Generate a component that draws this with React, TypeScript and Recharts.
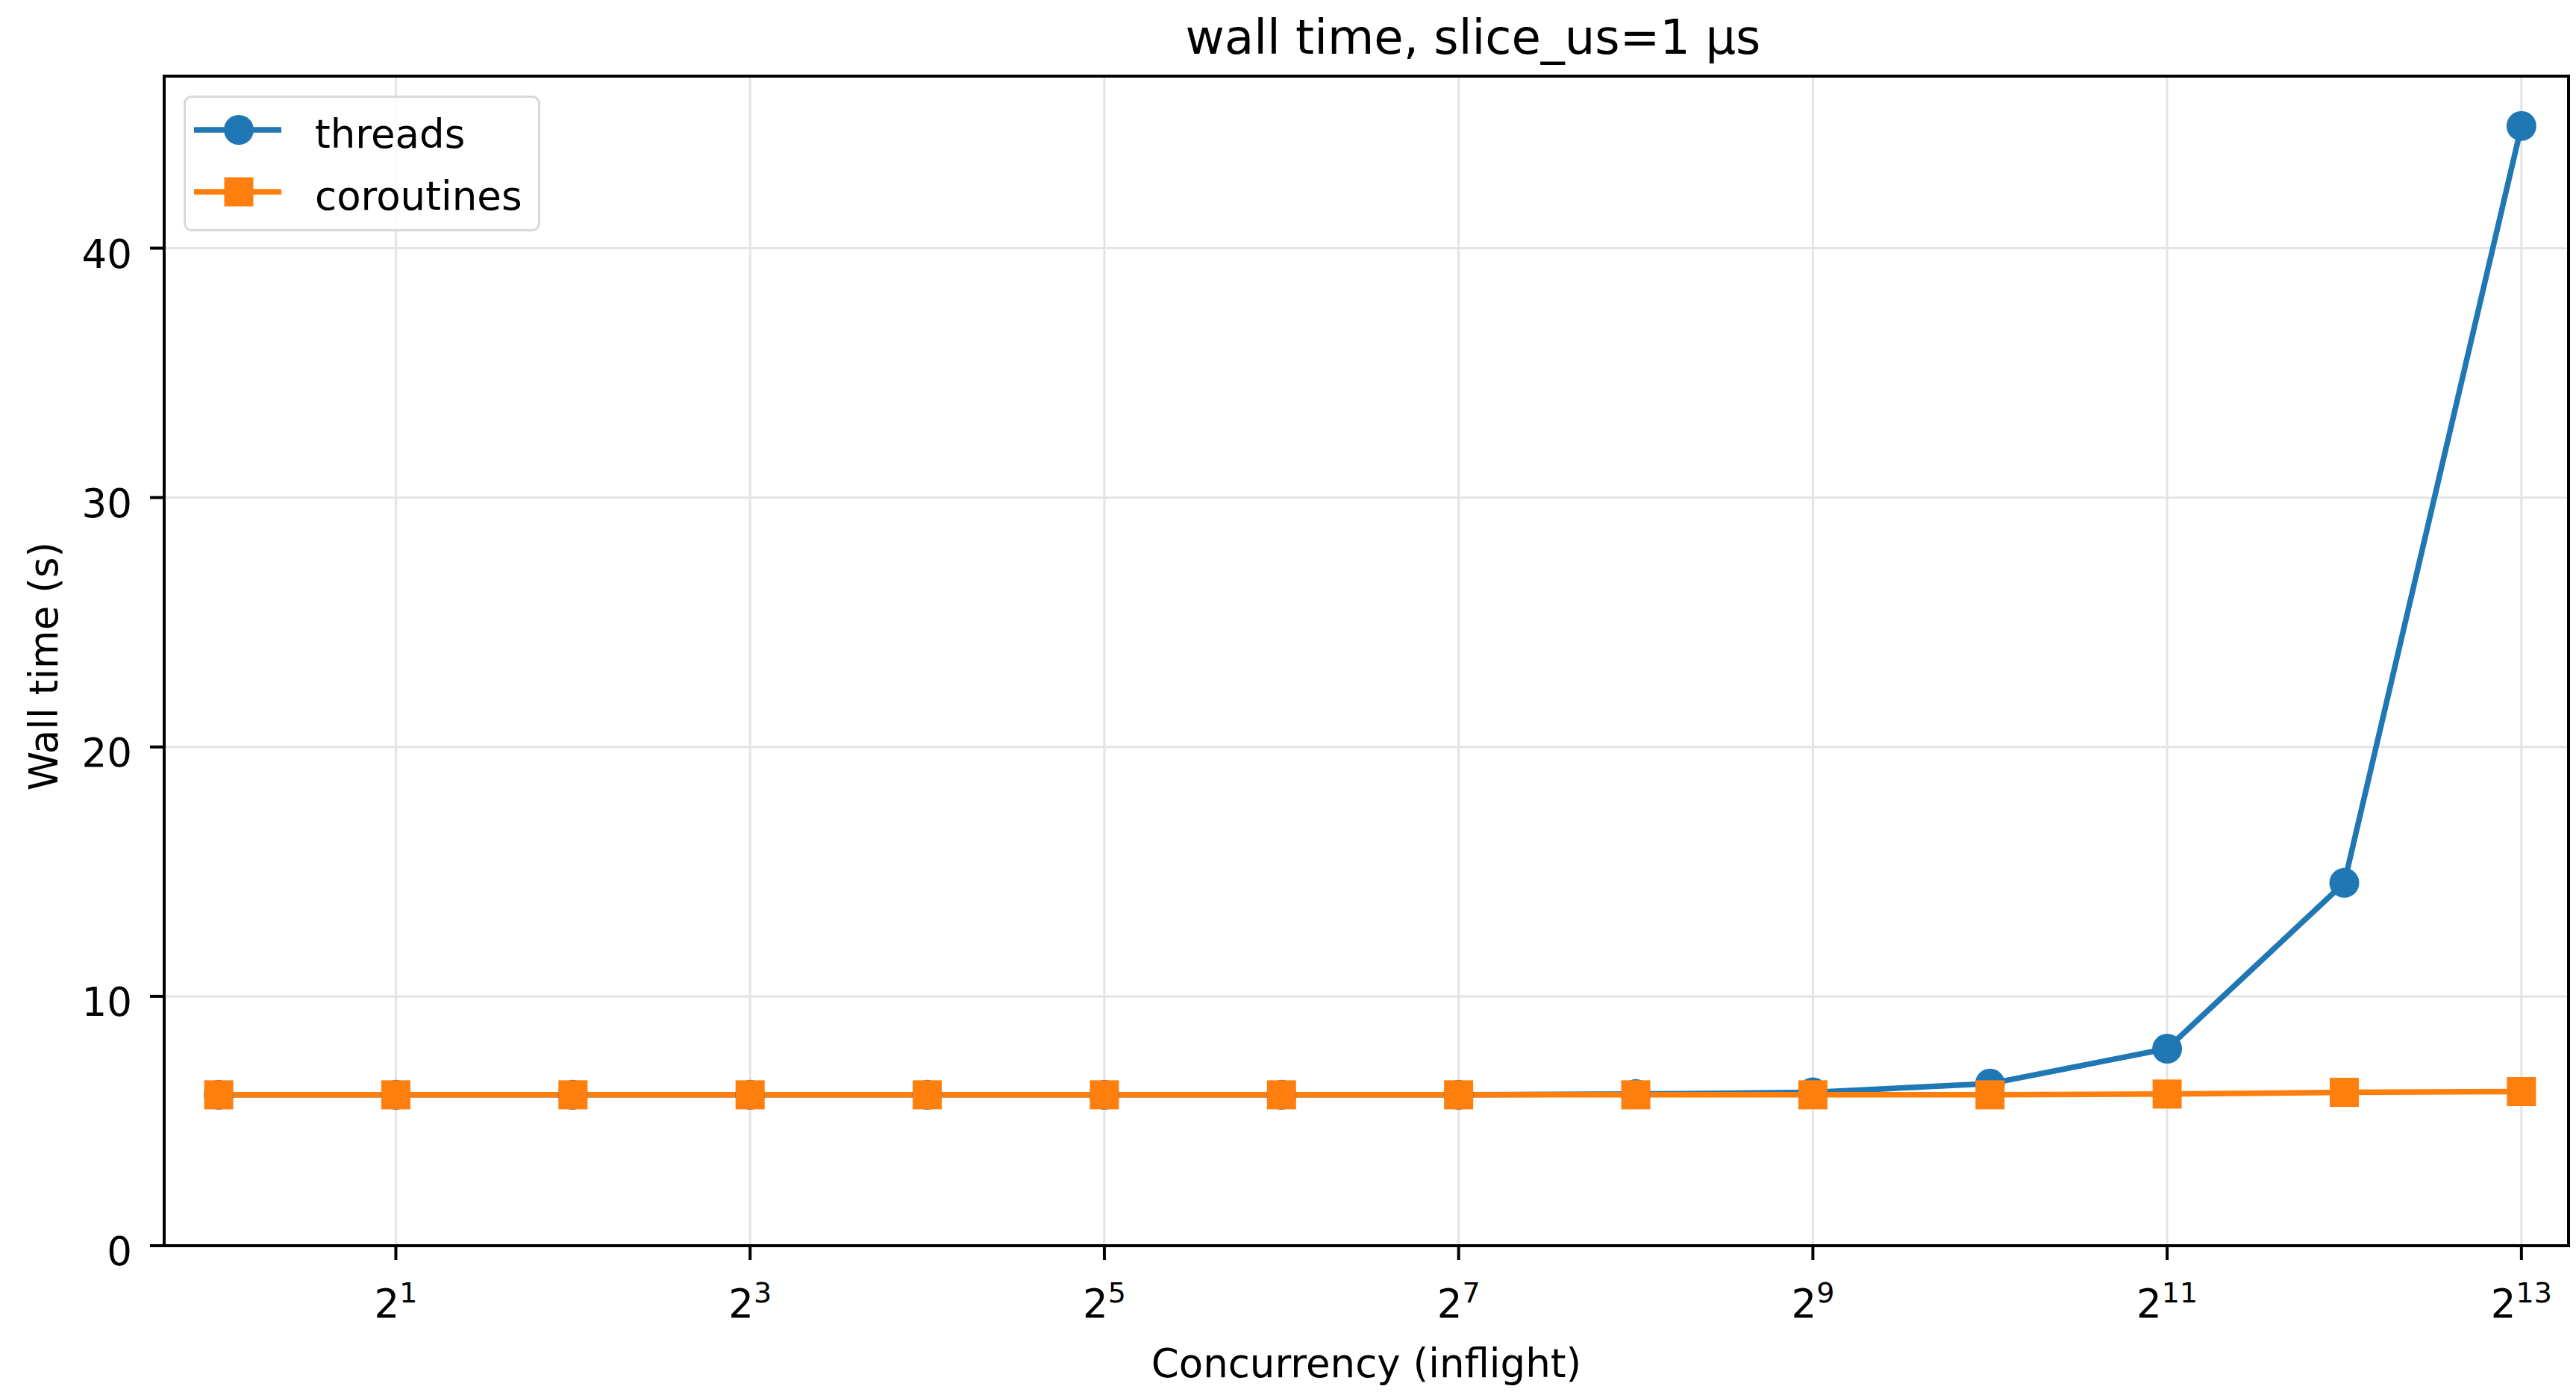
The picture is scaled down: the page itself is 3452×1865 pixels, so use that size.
import { LineChart, Line, XAxis, YAxis, CartesianGrid, Legend, ReferenceArea } from 'recharts';

// concurrency levels (inflight), 2^0 .. 2^13
const concurrency = [1, 2, 4, 8, 16, 32, 64, 128, 256, 512, 1024, 2048, 4096, 8192];
// wall time in seconds
const threadsWall = [6.05, 6.05, 6.05, 6.05, 6.05, 6.05, 6.05, 6.05, 6.08, 6.15, 6.5, 7.9, 14.55, 44.9];
const coroutinesWall = [6.05, 6.05, 6.05, 6.05, 6.05, 6.05, 6.05, 6.05, 6.05, 6.05, 6.05, 6.08, 6.15, 6.18];

const seriesOrder = ['threads', 'coroutines'];
const xTicks = [2, 8, 32, 128, 512, 2048, 8192];
const yTicks = [0, 10, 20, 30, 40];
const xDomain = [0.8078, 9851];
const yDomain = [0, 46.9];

const BLUE = '#1f77b4';
const ORANGE = '#ff7f0e';
const FONT = '"DejaVu Sans", sans-serif';

const data = concurrency.map((c, i) => ({
    inflight: c,
    threads: threadsWall[i],
    coroutines: coroutinesWall[i],
}));

function PowTick({ x, y, payload }: any) {
    const e = Math.round(Math.log2(payload.value));
    return (
        <text x={x} y={y} dy={77} textAnchor="middle" fontFamily={FONT} fontSize={53} fill="#000">
            <tspan>2</tspan>
            <tspan dy={-20} fontSize={38}>{e}</tspan>
        </text>
    );
}

function ValueTick({ x, y, payload }: any) {
    return (
        <text x={x} y={y} dy={26} textAnchor="end" fontFamily={FONT} fontSize={53} fill="#000">
            {payload.value}
        </text>
    );
}

function CircleDot({ cx, cy, index }: any) {
    return <circle key={`c-${index}`} cx={cx} cy={cy} r={20} fill={BLUE} />;
}

function SquareDot({ cx, cy, index }: any) {
    return <rect key={`s-${index}`} x={cx - 19.5} y={cy - 19.5} width={39} height={39} fill={ORANGE} />;
}

function LegendBox({ payload }: any) {
    const centers = [43, 126];
    const items = [...(payload || [])].sort(
        (a: any, b: any) => seriesOrder.indexOf(a.value) - seriesOrder.indexOf(b.value)
    );
    return (
        <div
            style={{
                position: 'relative',
                width: 478,
                height: 182,
                boxSizing: 'border-box',
                border: '3px solid #d9d9d9',
                borderRadius: 11,
                background: 'rgba(255,255,255,0.8)',
                fontFamily: FONT,
                fontSize: 53,
            }}
        >
            {items.map((entry: any, i: number) => (
                <div key={entry.value} style={{ position: 'absolute', left: 0, top: centers[i] - 30, width: 470, height: 60 }}>
                    <svg width={117} height={60} style={{ position: 'absolute', left: 11, top: 0 }}>
                        <line x1={0} y1={30} x2={117} y2={30} stroke={entry.color} strokeWidth={7.5} />
                        {entry.value === 'threads' ? (
                            <circle cx={60} cy={30} r={20} fill={entry.color} />
                        ) : (
                            <rect x={40.5} y={10.5} width={39} height={39} fill={entry.color} />
                        )}
                    </svg>
                    <span style={{ position: 'absolute', left: 173, top: 9, lineHeight: 1, whiteSpace: 'nowrap', color: '#000' }}>
                        {entry.value}
                    </span>
                </div>
            ))}
        </div>
    );
}

export default function App() {
    return (
        <div style={{ position: 'absolute', left: 0, top: 0, width: 3452, height: 1865, background: '#fff' }}>
            <div
                style={{
                    position: 'absolute',
                    left: 1974,
                    top: 18,
                    transform: 'translateX(-50%)',
                    fontFamily: FONT,
                    fontSize: 64,
                    lineHeight: 1,
                    whiteSpace: 'nowrap',
                    color: '#000',
                }}
            >
                wall time, slice_us=1 µs
            </div>
            <LineChart width={3452} height={1865} data={data} margin={{ top: 102, right: 10, bottom: 0, left: 0 }}>
                <CartesianGrid stroke="#e4e4e4" strokeWidth={3} />
                <XAxis
                    dataKey="inflight"
                    type="number"
                    scale="log"
                    domain={xDomain}
                    allowDataOverflow
                    ticks={xTicks}
                    tick={<PowTick />}
                    tickSize={19}
                    tickMargin={0}
                    tickLine={{ stroke: '#000', strokeWidth: 4 }}
                    axisLine={false}
                    height={196}
                    interval={0}
                    label={(props: any) => {
                        const vb = props.viewBox || { x: 220, y: 1669, width: 3222 };
                        return (
                            <text x={vb.x + vb.width / 2} y={vb.y + 176} textAnchor="middle" fontFamily={FONT} fontSize={53} fill="#000">
                                Concurrency (inflight)
                            </text>
                        );
                    }}
                />
                <YAxis
                    type="number"
                    domain={yDomain}
                    allowDataOverflow
                    ticks={yTicks}
                    tick={<ValueTick />}
                    tickSize={19}
                    tickMargin={24}
                    tickLine={{ stroke: '#000', strokeWidth: 4 }}
                    axisLine={false}
                    width={220}
                    interval={0}
                    label={(props: any) => {
                        const vb = props.viewBox || { x: 0, y: 102, height: 1567 };
                        const cy = vb.y + vb.height / 2 + 7;
                        return (
                            <text x={77} y={cy} transform={`rotate(-90 77 ${cy})`} textAnchor="middle" fontFamily={FONT} fontSize={53} fill="#000">
                                Wall time (s)
                            </text>
                        );
                    }}
                />
                <Line
                    dataKey="threads"
                    name="threads"
                    stroke={BLUE}
                    strokeWidth={7.5}
                    dot={CircleDot}
                    activeDot={false}
                    isAnimationActive={false}
                />
                <Line
                    dataKey="coroutines"
                    name="coroutines"
                    stroke={ORANGE}
                    strokeWidth={7.5}
                    dot={SquareDot}
                    activeDot={false}
                    isAnimationActive={false}
                />
                <ReferenceArea
                    x1={xDomain[0]}
                    x2={xDomain[1]}
                    y1={yDomain[0]}
                    y2={yDomain[1]}
                    fill="none"
                    fillOpacity={0}
                    stroke="#000"
                    strokeWidth={4}
                    ifOverflow="visible"
                />
                <Legend
                    layout="vertical"
                    verticalAlign="middle"
                    align="center"
                    content={<LegendBox />}
                    wrapperStyle={{ left: 246, top: 128, width: 478, height: 182 }}
                />
            </LineChart>
        </div>
    );
}
